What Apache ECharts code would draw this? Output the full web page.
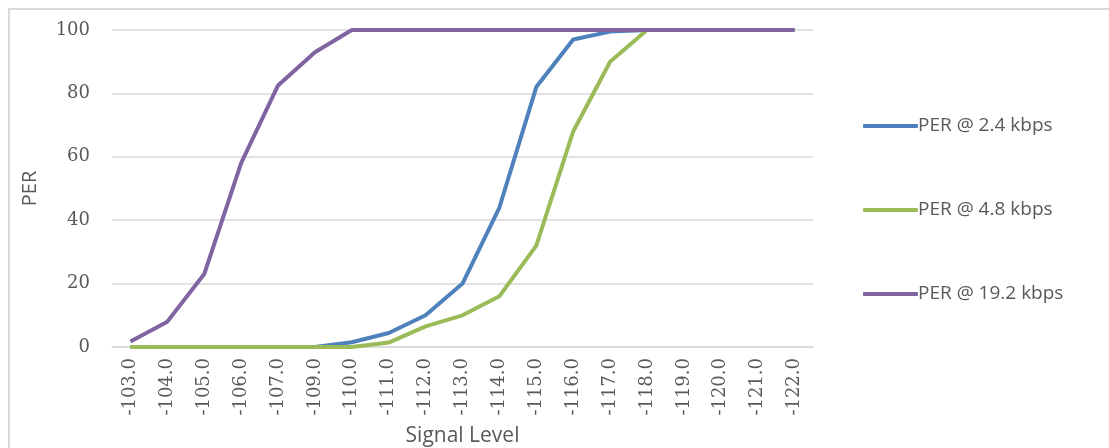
<!DOCTYPE html>
<html>
<head>
<meta charset="utf-8">
<script src="https://cdn.jsdelivr.net/npm/echarts@6/dist/echarts.min.js"></script>
<style>
html,body{margin:0;padding:0;background:#fff;overflow:hidden;}
#frame{position:absolute;left:8px;top:8px;width:1200px;height:600px;border:2.5px solid #d9d9d9;box-sizing:border-box;}
#chart{position:absolute;left:0;top:0;width:1109px;height:448px;}
</style>
</head>
<body>
<div id="frame"></div>
<div id="chart"></div>
<script>
const categories = ['-103.0','-104.0','-105.0','-106.0','-107.0','-109.0','-110.0','-111.0','-112.0','-113.0','-114.0','-115.0','-116.0','-117.0','-118.0','-119.0','-120.0','-121.0','-122.0'];
const per24 = [0,0,0,0,0,0,1.5,4.4,10,20,44,82,97,99.5,100,100,100,100,100];
const per48 = [0,0,0,0,0,0,0,1.4,6.5,10,16,32,68,90,100,100,100,100,100];
const per192 = [1.7,8,23,58,82.5,93,100,100,100,100,100,100,100,100,100,100,100,100,100];
const seriesNames = ['PER @ 2.4 kbps','PER @ 4.8 kbps','PER @ 19.2 kbps'];
const yTicks = [0,20,40,60,80,100];

const chart = echarts.init(document.getElementById('chart'), null, {renderer:'canvas'});
const lbl = '#595959';
chart.setOption({
  animation:false,
  backgroundColor:'transparent',
  color:['#4F81BD','#9BBB59','#8064A2'],
  grid:{left:112, right:296, top:30, bottom:101, containLabel:false, outerBoundsMode:'none'},
  legend:{
    orient:'vertical', left:858, top:111,
    icon:'roundRect',
    itemWidth:55, itemHeight:4, itemGap:64,
    textStyle:{fontFamily:'Open Sans', fontSize:19, lineHeight:20, color:lbl, padding:[0,0,0,-5]},
    data:seriesNames
  },
  xAxis:{
    type:'category', data:categories, boundaryGap:true,
    name:'Signal Level', nameLocation:'middle', nameGap:79,
    nameTextStyle:{fontFamily:'Open Sans', fontSize:21, color:lbl},
    axisLine:{show:true, lineStyle:{color:'#d9d9d9', width:1.5}},
    axisTick:{show:false},
    axisLabel:{rotate:90, margin:11, fontFamily:'DejaVu Serif', fontSize:18, color:lbl, interval:0}
  },
  yAxis:{
    type:'value', min:yTicks[0], max:yTicks[yTicks.length-1], interval:20,
    name:'PER', nameLocation:'middle', nameGap:72, nameRotate:90,
    nameTextStyle:{fontFamily:'Open Sans', fontSize:20, color:lbl},
    axisLine:{show:false}, axisTick:{show:false},
    axisLabel:{margin:22, fontFamily:'DejaVu Serif', fontSize:18, color:lbl},
    splitLine:{lineStyle:{color:'#d9d9d9', width:1.5}}
  },
  series:[
    {name:seriesNames[0], type:'line', data:per24, symbol:'none', lineStyle:{width:4}},
    {name:seriesNames[1], type:'line', data:per48, symbol:'none', lineStyle:{width:4}},
    {name:seriesNames[2], type:'line', data:per192, symbol:'none', lineStyle:{width:4}}
  ]
});
</script>
</body>
</html>
